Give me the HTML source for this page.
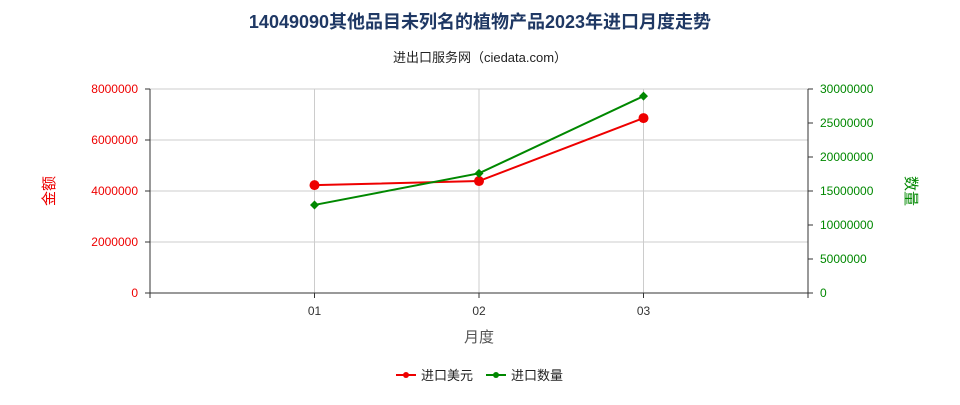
<!DOCTYPE html>
<html><head><meta charset="utf-8"><style>
body{margin:0;background:#fff;font-family:"Liberation Sans","Noto Sans CJK SC",sans-serif}
</style></head><body>
<svg id="c" width="960" height="400" xmlns="http://www.w3.org/2000/svg" font-family="Liberation Sans, Noto Sans CJK SC, sans-serif">
<text x="480" y="28" text-anchor="middle" font-size="18" font-weight="bold" fill="#1f3864">14049090其他品目未列名的植物产品2023年进口月度走势</text>
<text x="480" y="62" text-anchor="middle" font-size="13" fill="#222">进出口服务网（ciedata.com）</text>
<g id="grid"></g>
<g id="axes"></g>
<g id="series"></g>
<text x="54" y="191" text-anchor="middle" font-size="15" fill="#e00" transform="rotate(-90 54 191)">金额</text>
<text x="906" y="191" text-anchor="middle" font-size="15" fill="#080" transform="rotate(90 906 191)">数量</text>
<text x="479" y="342" text-anchor="middle" font-size="15" fill="#555">月度</text>
<g><line x1="396" y1="375" x2="416" y2="375" stroke="#e00" stroke-width="2"/><circle cx="406" cy="375" r="3" fill="#e00"/><text x="421" y="380" font-size="13" fill="#222">进口美元</text></g>
<g><line x1="486" y1="375" x2="506" y2="375" stroke="#080" stroke-width="2"/><circle cx="496" cy="375" r="3" fill="#080"/><text x="511" y="380" font-size="13" fill="#222">进口数量</text></g>
</svg>
<script>
const categories=["01","02","03"];
const amountValues=[4230000,4390000,6860000];
const quantityValues=[12950000,17600000,28950000];
const leftTicks=[0,2000000,4000000,6000000,8000000];
const rightTicks=[0,5000000,10000000,15000000,20000000,25000000,30000000];
const NS="http://www.w3.org/2000/svg";
const X0=150,X1=808,Y0=293,Y1=89;
const xs=i=>X0+(X1-X0)*(i+1)/(categories.length+1);
const yL=v=>Y0-(v/8000000)*(Y0-Y1);
const yR=v=>Y0-(v/30000000)*(Y0-Y1);
function mk(p,t,a){const e=document.createElementNS(NS,t);for(const k in a)e.setAttribute(k,a[k]);p.appendChild(e);return e;}
const g=document.getElementById('grid'),ax=document.getElementById('axes'),s=document.getElementById('series');
leftTicks.forEach(v=>{const y=yL(v);
const l=mk(g,'line',{x1:X0,x2:X1,y1:y,y2:y,stroke:'#ccc'});


const t=mk(ax,'text',{x:X0-12,y:y+4,'text-anchor':'end','font-size':12,fill:'#e00'});t.textContent=v;


mk(ax,'line',{x1:X0-5,x2:X0,y1:y,y2:y,stroke:'#333'});});
rightTicks.forEach(v=>{const y=yR(v);
const t=mk(ax,'text',{x:X1+12,y:y+4,'font-size':12,fill:'#080'});t.textContent=v;


mk(ax,'line',{x1:X1,x2:X1+5,y1:y,y2:y,stroke:'#333'});});
for(let i=0;i<=categories.length+1;i++){const x=X0+(X1-X0)*i/(categories.length+1);
if(i>0&&i<=categories.length){const l=mk(g,'line',{x1:x,x2:x,y1:Y1,y2:Y0,stroke:'#ccc'});

}
mk(ax,'line',{x1:x,x2:x,y1:Y0,y2:Y0+5,stroke:'#333'});}
categories.forEach((c,i)=>{const t=mk(ax,'text',{x:xs(i),y:Y0+22,'text-anchor':'middle','font-size':12,fill:'#333'});t.textContent=c;

});
mk(ax,'line',{x1:X0,x2:X1,y1:Y0,y2:Y0,stroke:'#333'});
mk(ax,'line',{x1:X0,x2:X0,y1:Y1,y2:Y0,stroke:'#333'});
mk(ax,'line',{x1:X1,x2:X1,y1:Y1,y2:Y0,stroke:'#333'});
const pa=mk(s,'polyline',{points:amountValues.map((v,i)=>xs(i)+','+yL(v)).join(' '),fill:'none',stroke:'#e00','stroke-width':2});


const pq=mk(s,'polyline',{points:quantityValues.map((v,i)=>xs(i)+','+yR(v)).join(' '),fill:'none',stroke:'#080','stroke-width':2});


amountValues.forEach((v,i)=>{const c=mk(s,'circle',{cx:xs(i),cy:yL(v),r:5,fill:'#e00'});

});
quantityValues.forEach((v,i)=>{const x=xs(i),y=yR(v);const d=mk(s,'polygon',{points:`${x},${y-4.5} ${x+4.5},${y} ${x},${y+4.5} ${x-4.5},${y}`,fill:'#080'});

});
</script>
</body></html>
